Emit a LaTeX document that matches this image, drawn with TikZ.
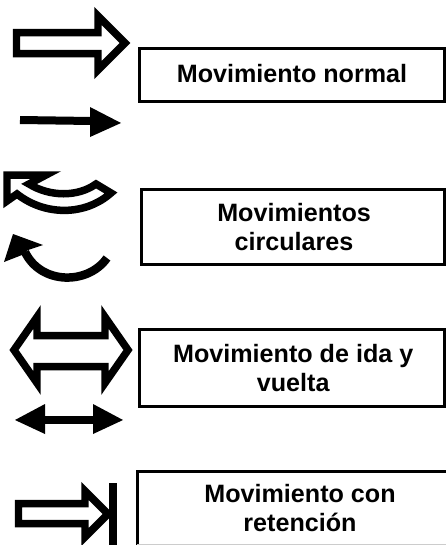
\documentclass[tikz,border=0pt]{standalone}
\usepackage{fontspec}
\setmainfont{Liberation Sans}
\begin{document}
\begin{tikzpicture}[x=0.02cm,y=-0.02cm]
\tikzstyle{labelbox}=[line width=0.06cm, align=center, font=\bfseries\fontsize{14.3}{16.3}\selectfont, inner sep=0pt]
\tikzstyle{hollow}=[draw, line width=0.15cm, miter limit=10, fill=white]
\tikzstyle{solid}=[fill=black]
\tikzstyle{shaft}=[draw, line width=0.16cm]
\useasboundingbox (0,0) rectangle (446,545);

\node[labelbox, draw, minimum width=6.12cm, minimum height=1.06cm] (normal) at (292,75) {\raisebox{1.4pt}{Movimiento normal}};
\node[labelbox, draw, minimum width=6.06cm, minimum height=1.52cm] (circular) at (293,227) {\hspace*{1.2pt}Movimientos\\\hspace*{1.2pt}circulares};
\node[labelbox, draw, minimum width=6.12cm, minimum height=1.56cm] (idavuelta) at (292,368) {\hspace*{1.4pt}Movimiento de ida y\\\hspace*{1.4pt}vuelta};
\node[labelbox, outer sep=0pt, minimum width=6.52cm, minimum height=1.48cm] (retencion) at (300,508) {Movimiento con\\retenci\'on};
\draw[line width=0.06cm] (retencion.south west) -- (retencion.north west) -- (retencion.north east);
\draw[black!20, line width=0.03cm] (retencion.south west) -- (retencion.south east);

% normal
\draw[hollow] (16.5,32.5) -- (98,32.5) -- (98,16) -- (125,43) -- (98,70) -- (98,53.5) -- (16.5,53.5) -- cycle;
\draw[shaft] (20,120) -- (92,121);
\fill[solid] (90,107) -- (121,123) -- (90,137) -- cycle;

% circular
\draw[hollow] (7,175) -- (46,175) -- (29,184) .. controls (50,197) and (78,197) .. (96,184) -- (111,193)
  .. controls (85,216) and (45,216) .. (17,194) -- (7,201) -- cycle;
\draw[shaft, line width=0.17cm] (107,258) .. controls (88,285) and (41,285) .. (25,252);
\fill[solid] (13,234) -- (43,245) -- (28,250) -- (22,255) -- (4,262) -- cycle;

% ida y vuelta
\draw[hollow] (14,350) -- (37,317) -- (37,335.5) -- (105,335.5) -- (105,317) -- (128,350) -- (105,383) -- (105,366.5) -- (37,366.5) -- (37,383) -- cycle;
\draw[shaft] (40,420) -- (95,420);
\fill[solid] (15,420) -- (45,404) -- (45,434) -- cycle;
\fill[solid] (123,420) -- (93,404) -- (93,434) -- cycle;

% retencion
\draw[hollow] (18.5,503.5) -- (85,503.5) -- (85,491) -- (108,514) -- (85,537) -- (85,523.5) -- (18.5,523.5) -- cycle;
\draw[line width=0.16cm] (113,483) -- (113,545);
\end{tikzpicture}
\end{document}
